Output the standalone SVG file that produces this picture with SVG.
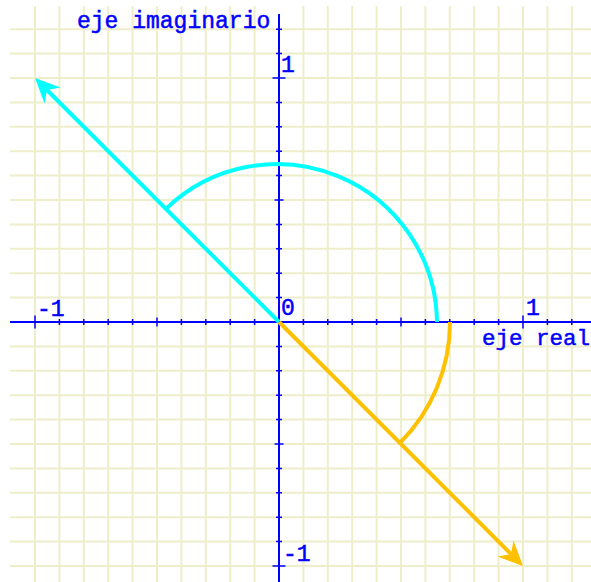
<svg xmlns="http://www.w3.org/2000/svg" width="591" height="582" viewBox="0 0 591 582">
<style>
.grid{stroke:#EEEECB;stroke-width:2;fill:none}
.axis{stroke:#0000FF;stroke-width:2;fill:none}
.tick{stroke:#0000FF;stroke-width:1.5;fill:none}
.lbl{font-family:"Liberation Mono","Courier New",monospace;font-size:23px;fill:#0000FF;stroke:#0000FF;stroke-width:0.5}
.cy{stroke:#00FFFF;stroke-width:4;fill:none}
.cyf{fill:#00FFFF}
.or{stroke:#FFC000;stroke-width:4;fill:none}
.orf{fill:#FFC000}
</style>
<rect x="0" y="0" width="591" height="582" fill="#FFFFFF"/>
<g id="grid" class="grid">
<path d="M35 6V582M59.4 6V582M83.8 6V582M108.2 6V582M132.6 6V582M157 6V582M181.4 6V582M205.8 6V582M230.2 6V582M254.6 6V582M303.4 6V582M327.8 6V582M352.2 6V582M376.6 6V582M401 6V582M425.4 6V582M449.8 6V582M474.2 6V582M498.6 6V582M523 6V582M547.4 6V582M571.8 6V582"/>
<path d="M10 566H591M10 541.6H591M10 517.2H591M10 492.8H591M10 468.4H591M10 444H591M10 419.6H591M10 395.2H591M10 370.8H591M10 346.4H591M10 297.6H591M10 273.2H591M10 248.8H591M10 224.4H591M10 200H591M10 175.6H591M10 151.2H591M10 126.8H591M10 102.4H591M10 78H591M10 53.6H591M10 29.2H591"/>
</g>
<g id="axes">
<path class="axis" d="M10 322H591M279 14V582"/>
<path class="tick" d="M35 315.5V328.5M59.4 319V325M83.8 319V325M108.2 319V325M132.6 319V325M157 317.5V326.5M181.4 319V325M205.8 319V325M230.2 319V325M254.6 319V325M303.4 319V325M327.8 319V325M352.2 319V325M376.6 319V325M401 317.5V326.5M425.4 319V325M449.8 319V325M474.2 319V325M498.6 319V325M523 315.5V328.5M547.4 319V325M571.8 319V325"/>
<path class="tick" d="M272.5 566H285.5M276 541.6H282M276 517.2H282M276 492.8H282M276 468.4H282M274.5 444H283.5M276 419.6H282M276 395.2H282M276 370.8H282M276 346.4H282M276 297.6H282M276 273.2H282M276 248.8H282M276 224.4H282M274.5 200H283.5M276 175.6H282M276 151.2H282M276 126.8H282M276 102.4H282M272.5 78H285.5M276 53.6H282M276 29.2H282"/>
</g>
<g id="labels" class="lbl">
<text x="77" y="28">eje imaginario</text>
<text x="281" y="72">1</text>
<text x="281" y="315">0</text>
<text x="37" y="316">-1</text>
<text x="526" y="315">1</text>
<text x="482" y="345" style="font-size:22.5px">eje real</text>
<text x="283" y="561">-1</text>
</g>
<g id="arcs">
<path id="arc-cyan" class="cy" d="M437 322A160 160 0 0 0 165.9 208.9"/>
<path id="arc-orange" class="or" d="M450 322A171 171 0 0 1 399.9 442.9"/>
</g>
<g id="connectors">
<g id="vec-cyan">
<path class="cy" d="M279 322L47 90"/>
<polygon class="cyf" points="35,78 60.5,87.5 47,90 44.5,103.5"/>
</g>
<g id="vec-orange">
<path class="or" d="M279 322L511 554"/>
<polygon class="orf" points="523,566 513.5,540.5 511,554 497.5,556.5"/>
</g>
</g>
</svg>
